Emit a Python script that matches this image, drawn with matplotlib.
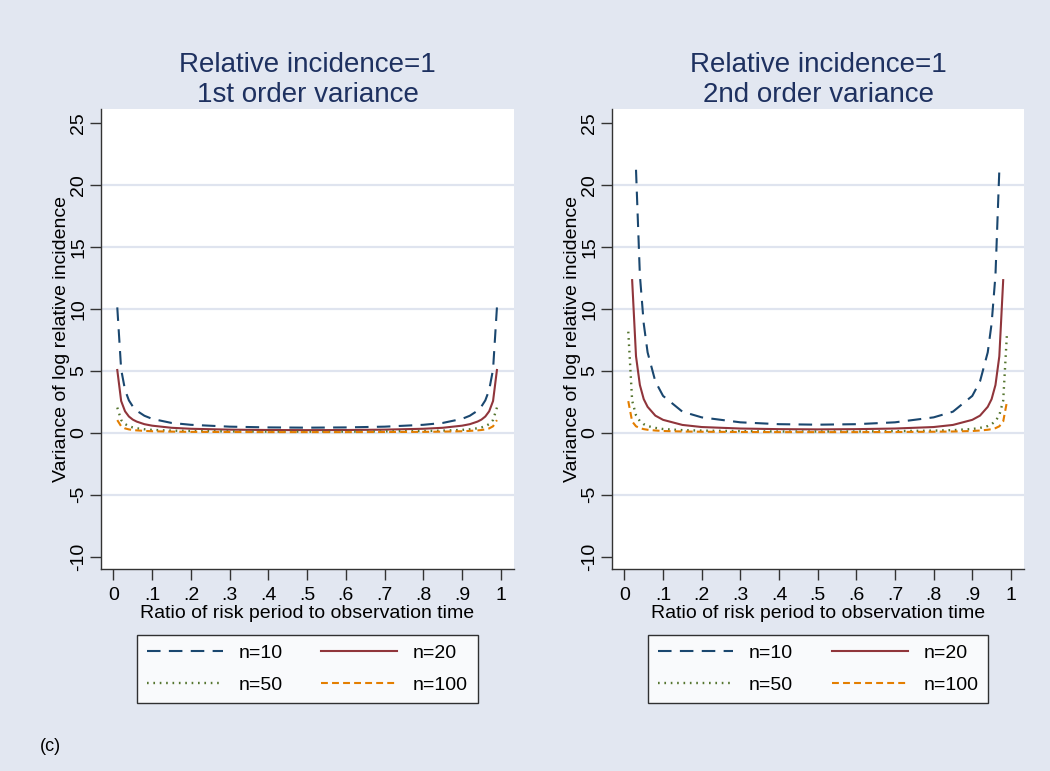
import matplotlib
matplotlib.use("Agg")
import matplotlib.pyplot as plt

plt.rcParams['font.family'] = ['Liberation Sans', 'DejaVu Sans']
plt.rcParams['axes.unicode_minus'] = False

# ratio of risk period to observation time
x_all = [0.01, 0.02, 0.03, 0.04, 0.05, 0.06, 0.08, 0.1, 0.15, 0.2, 0.3, 0.4, 0.5,
         0.6, 0.7, 0.8, 0.85, 0.9, 0.92, 0.94, 0.95, 0.96, 0.97, 0.98, 0.99]
x_n10_2nd = x_all[2:-2]
x_n20_2nd = x_all[1:-1]

# 1st order variance
v1_n10 = [10.1, 5.10, 3.44, 2.60, 2.11, 1.77, 1.36, 1.11, 0.78, 0.63, 0.48, 0.42, 0.40,
          0.42, 0.48, 0.63, 0.78, 1.11, 1.36, 1.77, 2.11, 2.60, 3.44, 5.10, 10.1]
v1_n20 = [5.05, 2.55, 1.72, 1.30, 1.05, 0.89, 0.68, 0.56, 0.39, 0.31, 0.24, 0.21, 0.20,
          0.21, 0.24, 0.31, 0.39, 0.56, 0.68, 0.89, 1.05, 1.30, 1.72, 2.55, 5.05]
v1_n50 = [2.02, 1.02, 0.69, 0.52, 0.42, 0.35, 0.27, 0.22, 0.16, 0.13, 0.10, 0.08, 0.08,
          0.08, 0.10, 0.13, 0.16, 0.22, 0.27, 0.35, 0.42, 0.52, 0.69, 1.02, 2.02]
v1_n100 = [1.01, 0.51, 0.34, 0.26, 0.21, 0.18, 0.14, 0.11, 0.08, 0.06, 0.05, 0.04, 0.04,
           0.04, 0.05, 0.06, 0.08, 0.11, 0.14, 0.18, 0.21, 0.26, 0.34, 0.51, 1.01]

# 2nd order variance
v2_n10 = [21.2, 12.7, 8.79, 6.47, 4.13, 2.96, 1.69, 1.23, 0.83, 0.68, 0.64,
          0.68, 0.83, 1.23, 1.69, 2.96, 4.13, 6.47, 8.79, 12.7, 21.2]
v2_n20 = [12.3, 6.16, 3.84, 2.70, 2.08, 1.37, 1.03, 0.62, 0.45, 0.33, 0.28, 0.26,
          0.28, 0.33, 0.45, 0.62, 1.03, 1.37, 2.08, 2.70, 3.84, 6.16, 12.3]
v2_n50 = [8.14, 2.58, 1.40, 0.93, 0.68, 0.53, 0.38, 0.29, 0.20, 0.16, 0.12, 0.09, 0.09,
          0.09, 0.12, 0.16, 0.20, 0.29, 0.38, 0.53, 0.68, 0.93, 1.40, 2.58, 8.14]
v2_n100 = [2.54, 0.90, 0.51, 0.36, 0.28, 0.23, 0.17, 0.13, 0.09, 0.07, 0.05, 0.04, 0.04,
           0.04, 0.05, 0.07, 0.09, 0.13, 0.17, 0.23, 0.28, 0.36, 0.51, 0.90, 2.54]

labels = ["n=10", "n=20", "n=50", "n=100"]
titles = ["Relative incidence=1\n1st order variance", "Relative incidence=1\n2nd order variance"]
xticks = [0, 0.1, 0.2, 0.3, 0.4, 0.5, 0.6, 0.7, 0.8, 0.9, 1]
xticklabels = ["0", ".1", ".2", ".3", ".4", ".5", ".6", ".7", ".8", ".9", "1"]
yticks = [-10, -5, 0, 5, 10, 15, 20, 25]

bg = "#e2e7f1"
navy = "#1a476f"
maroon = "#90353b"
green = "#55752f"
orange = "#e37e00"

fig = plt.figure(figsize=(10.5, 7.71), dpi=100, facecolor=bg)
ax1 = fig.add_axes([0.0962, 0.262, 0.3933, 0.5966])
ax2 = fig.add_axes([0.5829, 0.262, 0.3924, 0.5966])

panels = [
    (ax1, [(x_all, v1_n10), (x_all, v1_n20), (x_all, v1_n50), (x_all, v1_n100)]),
    (ax2, [(x_n10_2nd, v2_n10), (x_n20_2nd, v2_n20), (x_all, v2_n50), (x_all, v2_n100)]),
]

for i, (ax, series) in enumerate(panels):
    ax.set_facecolor("white")
    for v in [-5, 0, 5, 10, 15, 20]:
        ax.axhline(v, color="#dfe4ef", lw=1.6, zorder=0)
    h10, = ax.plot(*series[0], color=navy, lw=1.5, dashes=(6.5, 4), label=labels[0])
    h20, = ax.plot(*series[1], color=maroon, lw=1.5, label=labels[1])
    h50, = ax.plot(*series[2], color=green, lw=1.7, dashes=(0.7, 2.0), label=labels[2])
    h100, = ax.plot(*series[3], color=orange, lw=1.5, dashes=(3.3, 2), label=labels[3])

    ax.set_xlim(-0.032, 1.034)
    ax.set_ylim(-11, 26.1)
    ax.set_xticks(xticks)
    ax.set_xticklabels(xticklabels)
    ax.set_yticks(yticks)
    ax.tick_params(axis="both", labelsize=14, length=8, width=1, color="#333333",
                   direction="out", pad=5)
    ax.tick_params(axis="y", labelrotation=90, pad=2)
    for lab in ax.get_yticklabels():
        lab.set_va("center")
    for s in ["top", "right"]:
        ax.spines[s].set_visible(False)
    for s in ["left", "bottom"]:
        ax.spines[s].set_color("#333333")
        ax.spines[s].set_linewidth(1)

    ax.set_title(titles[i], fontsize=20, color="#1e3160", linespacing=1.2, pad=5)
    ax.set_xlabel("Ratio of risk period to observation time", fontsize=14, labelpad=1)
    ax.set_ylabel("Variance of log relative incidence", fontsize=14, labelpad=0)

    leg = ax.legend([h10, h50, h20, h100], [labels[0], labels[2], labels[1], labels[3]],
                    ncol=2, loc="upper center", bbox_to_anchor=(0.5, -0.143),
                    frameon=True, fancybox=False, edgecolor="black", fontsize=14,
                    handlelength=3.9, handletextpad=0.8, columnspacing=2.0,
                    labelspacing=0.72, borderpad=0.5, borderaxespad=0)
    leg.get_frame().set_linewidth(1)

fig.text(0.038, 0.026, "(c)", fontsize=13)

fig.savefig("out.png", dpi=100, facecolor=bg)
